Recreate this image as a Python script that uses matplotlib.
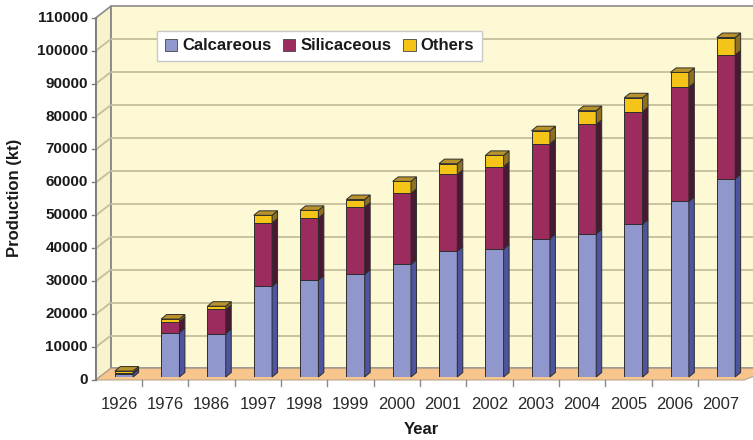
import matplotlib
matplotlib.use("Agg")
import matplotlib.pyplot as plt
from matplotlib.patches import Polygon, Rectangle, Patch

# Production of diatomite-type materials by year (kt)
years = ["1926", "1976", "1986", "1997", "1998", "1999", "2000",
         "2001", "2002", "2003", "2004", "2005", "2006", "2007"]
calcareous = [1000, 13500, 13200, 27500, 29400, 31200, 34200,
              38200, 38900, 42000, 43500, 46400, 53300, 60200]
siliceous = [200, 3300, 7300, 19300, 18900, 20400, 21600,
             23300, 25000, 28800, 33200, 34200, 34700, 37600]
others = [600, 800, 1000, 2300, 2300, 2300, 3600,
          3300, 3400, 4000, 4200, 4200, 4500, 5300]
y_ticks = list(range(0, 110001, 10000))
series_names = ["Calcareous", "Silicaceous", "Others"]

FONT = "Liberation Sans"
plt.rcParams["font.family"] = [FONT, "DejaVu Sans"]

W, H, DPI = 753, 440, 100
fig = plt.figure(figsize=(W / DPI, H / DPI), dpi=DPI)
fig.patch.set_facecolor("white")

n = len(years)
X0, X1 = -0.5, n - 0.5
Y0, Y1 = 0, 110000
ax_rect = [0.1339, 0.1432, 0.8610, 0.8232]
ax = fig.add_axes(ax_rect)
ax.set_xlim(X0, X1)
ax.set_ylim(Y0, Y1)
ax.axis("off")

# pixel -> data conversions for the oblique (3-D) offsets
px_x = ax_rect[2] * W / (X1 - X0)
px_y = ax_rect[3] * H / (Y1 - Y0)


def off(x, y, dx, dy):
    return (x + dx / px_x, y + dy / px_y)


FRONT = (-5.0, -3.0)    # front plane of the box (axis, floor edge)
BACK = (10.0, 8.5)      # back wall plane
DEPTH = (5.5, 4.5)      # bar depth

wall_c = "#FDF9D4"
side_wall_c = "#F8F3CC"
floor_c = "#F8C68C"
grid_c = "#C4BF9C"
edge_c = "#8A8A8A"

# back wall
bl = off(X0, Y0, *BACK)
back_wall = Rectangle(bl, (X1 - X0) + 2, Y1 - Y0, facecolor=wall_c,
                      edgecolor=edge_c, lw=1.2, zorder=1, clip_on=False)
ax.add_patch(back_wall)

# left wall
left_wall = Polygon([off(X0, Y0, *FRONT), off(X0, Y1, *FRONT),
                     off(X0, Y1, *BACK), off(X0, Y0, *BACK)],
                    closed=True, facecolor=side_wall_c, edgecolor=edge_c,
                    lw=1.2, zorder=1.5, clip_on=False)
ax.add_patch(left_wall)

# gridlines on back wall and left wall
for v in y_ticks[1:-1]:
    bx, by = off(X0, v, *BACK)
    fx, fy = off(X0, v, *FRONT)
    ax.plot([bx, X1 + 2], [by, by], color=grid_c, lw=1.3, zorder=2,
            clip_on=False, solid_capstyle="butt")
    ax.plot([fx, bx], [fy, by], color=grid_c, lw=1.3, zorder=2,
            clip_on=False, solid_capstyle="butt")

# floor
floor = Polygon([off(X0, Y0, *FRONT), off(X1, Y0, *FRONT),
                 off(X1 + 0.3, Y0, *BACK), off(X0, Y0, *BACK)],
                closed=True, facecolor=floor_c, edgecolor="#B9A58C",
                lw=0.8, zorder=2.5, clip_on=False)
ax.add_patch(floor)

# front axis line, y ticks and labels
ax_x, _ = off(X0, 0, *FRONT)
fy0 = off(X0, Y0, *FRONT)[1]
fy1 = off(X0, Y1, *FRONT)[1]
ax.plot([ax_x, ax_x], [fy0, fy1], color="#7A7A7A", lw=1.2, zorder=3, clip_on=False)
for v in y_ticks:
    tx, ty = off(X0, v, *FRONT)
    ax.plot([tx - 4 / px_x, tx], [ty, ty], color="#7A7A7A", lw=1.0,
            zorder=3, clip_on=False)
    ax.text(tx - 8 / px_x, ty, str(v), ha="right", va="center",
            fontsize=11, fontweight="bold", color="#1A1A1A",
            family=FONT, zorder=3)

# x ticks and labels on the floor's front edge
for k in range(n):
    if k < n - 1:
        tx, ty = off(k + 0.5, Y0, *FRONT)
        ax.plot([tx, tx], [ty, ty - 6 / px_y], color="#8A8A8A", lw=1.0,
                zorder=3, clip_on=False)
    lx, ly = off(k, Y0, *FRONT)
    ax.text(lx, ly - 25 / px_y, years[k], ha="center", va="center",
            fontsize=12, color="#2A2A2A", family=FONT, zorder=3)

# 3-D stacked columns
bw = 0.395
styles = [
    ("#8F97CC", "#4E559E", "#7D85C0"),
    ("#9C2B5E", "#4A1833", "#7E2249"),
    ("#F5C419", "#8F7020", "#B8922A"),
]
line_c = "#2E2E2E"
lw_bar = 0.7
series = [calcareous, siliceous, others]
bottoms = [0.0] * n
for s_idx, (vals, (front_c, side_c, top_c)) in enumerate(zip(series, styles)):
    ax.bar(range(n), vals, width=bw, bottom=bottoms, color=front_c,
           edgecolor=line_c, linewidth=lw_bar, zorder=5 + s_idx * 0.1)
    for k in range(n):
        y0 = bottoms[k]
        y1 = y0 + vals[k]
        xr = k + bw / 2
        xl = k - bw / 2
        side = Polygon([(xr, y0), off(xr, y0, *DEPTH), off(xr, y1, *DEPTH), (xr, y1)],
                       closed=True, facecolor=side_c, edgecolor=line_c,
                       lw=lw_bar, zorder=5 + s_idx * 0.1, clip_on=False)
        ax.add_patch(side)
        if s_idx == len(series) - 1:
            top = Polygon([(xl, y1), (xr, y1), off(xr, y1, *DEPTH), off(xl, y1, *DEPTH)],
                          closed=True, facecolor=top_c, edgecolor=line_c,
                          lw=lw_bar, zorder=5.5, clip_on=False)
            ax.add_patch(top)
    bottoms = [b + v for b, v in zip(bottoms, vals)]

# legend
handles = [Patch(facecolor=c[0], edgecolor="#444444", lw=0.6) for c in styles]
leg = fig.legend(handles, series_names, loc="upper left",
                 bbox_to_anchor=(157 / W, 1 - 31 / H), ncol=3,
                 frameon=True, fancybox=False, framealpha=1,
                 edgecolor="#C8C8C8", facecolor="white",
                 handlelength=0.75, handleheight=0.75, handletextpad=0.3,
                 columnspacing=0.7, borderpad=0.45, borderaxespad=0,
                 prop={"family": FONT, "weight": "bold", "size": 12})
leg.get_frame().set_linewidth(1.0)
for t in leg.get_texts():
    t.set_color("#1A1A1A")

# axis titles
fig.text(421 / W, 1 - 429 / H, "Year", ha="center", va="center",
         fontsize=12, fontweight="bold", color="#1A1A1A", family=FONT)
fig.text(15 / W, 1 - 198 / H, "Production (kt)", ha="center", va="center",
         rotation=90, fontsize=12, fontweight="bold", color="#1A1A1A", family=FONT)

fig.savefig("out.png", dpi=DPI, facecolor="white")
